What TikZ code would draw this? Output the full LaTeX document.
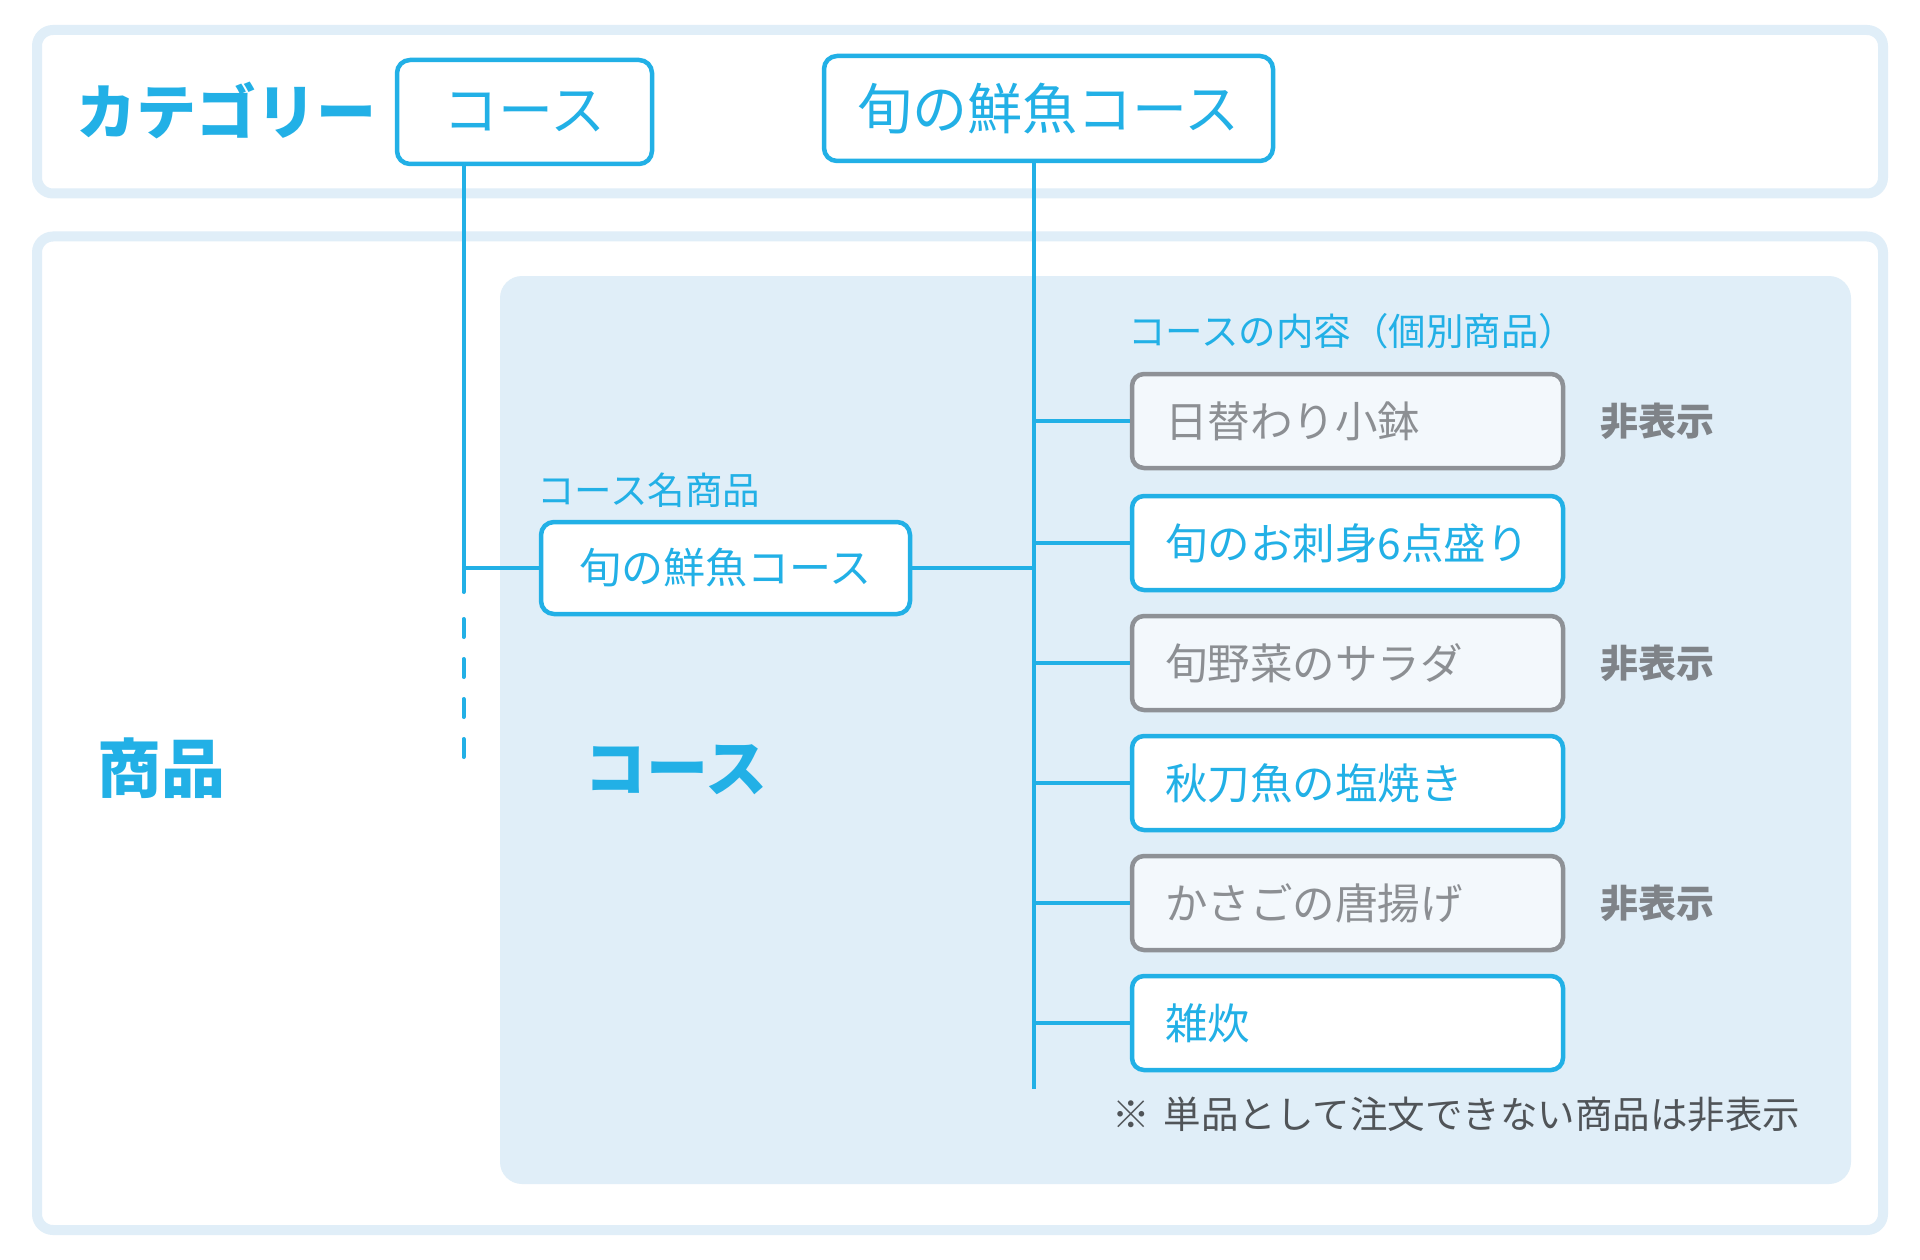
\documentclass[tikz,border=0pt]{standalone}
\usepackage{fontspec}
\setmainfont{Noto Sans CJK JP}
\definecolor{cblue}{HTML}{22B0E6}
\definecolor{cpanel}{HTML}{E0EEF8}
\definecolor{gborder}{HTML}{8E9196}
\definecolor{gfill}{HTML}{F3F8FC}
\definecolor{gtext}{HTML}{8C8F93}
\definecolor{gbold}{HTML}{7F8388}
\definecolor{cnote}{HTML}{505458}
\tikzset{
  frame/.style={draw=cpanel, line width=10pt, rounded corners=16pt},
  topbox/.style={draw=cblue, line width=4.5pt, rounded corners=13pt, fill=white, inner sep=0pt, text=cblue, font=\fontsize{55}{59}\selectfont},
  itembox/.style={draw=cblue, line width=4.5pt, rounded corners=12pt, fill=white, minimum width=431pt, minimum height=94pt, text width=365pt, inner xsep=33pt, inner ysep=0pt, align=left, font=\fontsize{42.5}{46}\selectfont, text=cblue},
  hiddenbox/.style={itembox, draw=gborder, fill=gfill, text=gtext},
  conn/.style={draw=cblue, line width=4pt},
  bigtitle/.style={text=cblue, font=\fontsize{60}{64}\selectfont\bfseries, inner sep=0pt},
  smalllabel/.style={text=cblue, font=\fontsize{37.5}{40}\selectfont, inner sep=0pt, anchor=west},
  hidetag/.style={text=gbold, font=\fontsize{38}{42}\selectfont\bfseries, inner sep=0pt, anchor=west},
}
\begin{document}
\begin{tikzpicture}[x=1pt,y=-1pt]
\useasboundingbox (0,0) rectangle (1920,1260);
\fill[white] (0,0) rectangle (1920,1260);
% frames
\draw[frame] (37,30) rectangle (1883,193.5);
\draw[frame] (37,236.5) rectangle (1883,1230);
\fill[cpanel, rounded corners=22pt] (500,276) rectangle (1851,1184);
% titles
\node[bigtitle] (tcat) at (226,111) {カテゴリー};
\node[bigtitle, font=\fontsize{64}{68}\selectfont\bfseries] (tprod) at (161,768) {商品};
\node[bigtitle, font=\fontsize{62}{66}\selectfont\bfseries] (tcourse) at (676,770) {コース};
% top boxes
\node[topbox, minimum width=255pt, minimum height=104pt] (cat) at (524.5,112) {コース};
\node[topbox, minimum width=449pt, minimum height=105pt] (topc) at (1048.5,108.5) {旬の鮮魚コース};
% course name box
\node[smalllabel] (lname) at (537,490) {コース名商品};
\node[topbox, minimum width=369pt, minimum height=92pt, font=\fontsize{42}{46}\selectfont] (namebox) at (725.5,568) {旬の鮮魚コース};
% items
\node[smalllabel] (lcontent) at (1128,331) {コースの内容（個別商品）};
\node[hiddenbox] (i1) at (1347.5,421) {日替わり小鉢};
\node[itembox] (i2) at (1347.5,543) {旬のお刺身6点盛り};
\node[hiddenbox] (i3) at (1347.5,663) {旬野菜のサラダ};
\node[itembox] (i4) at (1347.5,783) {秋刀魚の塩焼き};
\node[hiddenbox] (i5) at (1347.5,903) {かさごの唐揚げ};
\node[itembox] (i6) at (1347.5,1023) {雑炊};
\node[hidetag] (h1) at (1600,421) {非表示};
\node[hidetag] (h3) at (1600,663) {非表示};
\node[hidetag] (h5) at (1600,903) {非表示};
\node[text=cnote, font=\fontsize{37.5}{40}\selectfont, inner sep=0pt, anchor=west] (note) at (1112,1114) {※\hspace{0.38em}単品として注文できない商品は非表示};
% connectors left
\coordinate (j1) at (463.5,568);
\coordinate (s1) at (463.5,592);
\coordinate (d0) at (463.5,619);
\coordinate (d1) at (463.5,758);
\draw[conn] (cat.south -| j1) -- (j1) -- (namebox.west);
\draw[conn, line cap=round] (j1) -- (s1);
\draw[conn, line cap=round, dash pattern=on 18pt off 22pt] (d0) -- (d1);
% connectors right
\coordinate (trunk) at (1033.5,568);
\coordinate (tend) at (1033.5,1089);
\draw[conn] (topc.south -| trunk) -- (tend);
\draw[conn] (namebox.east) -- (trunk);
\foreach \n in {i1,i2,i3,i4,i5,i6} {
  \draw[conn] (\n.west -| trunk) -- (\n.west);
}
\end{tikzpicture}
\end{document}
